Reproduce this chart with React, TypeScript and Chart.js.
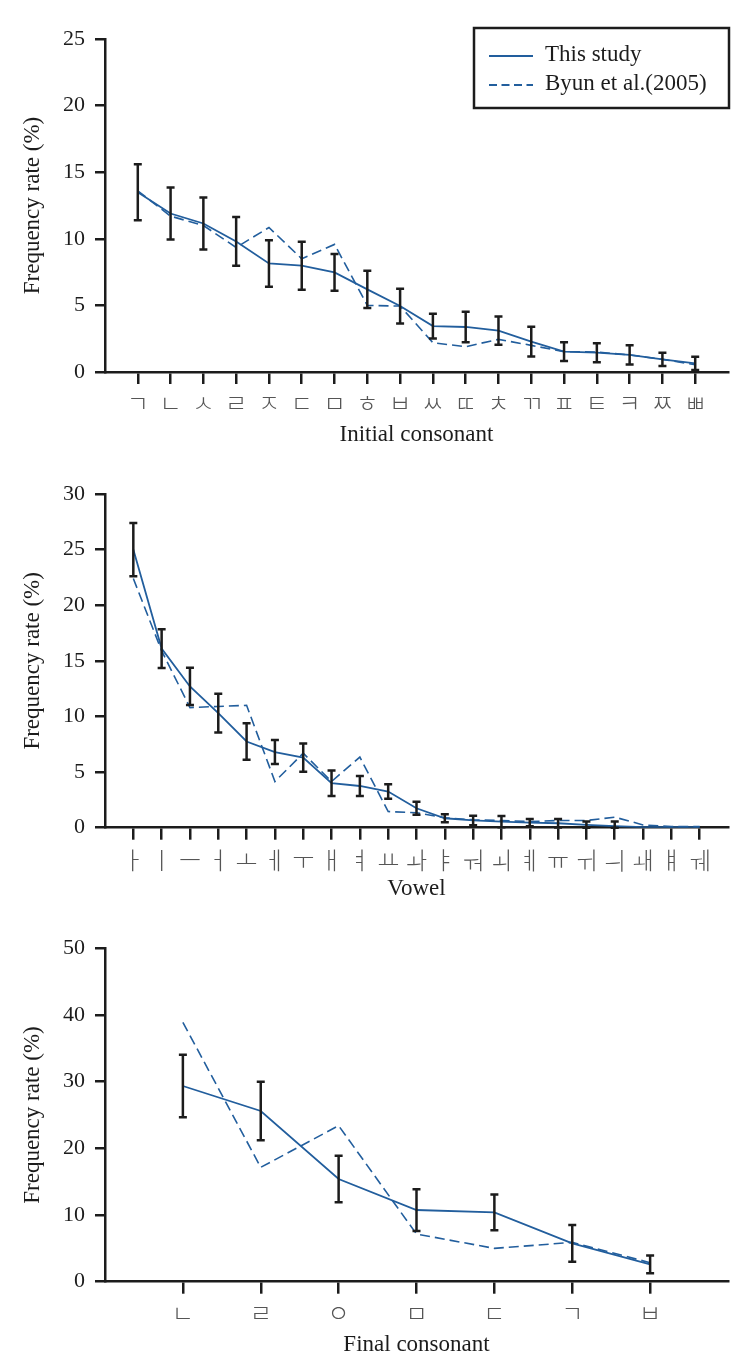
import React, { useEffect, useRef } from "react";
import { Chart, registerables } from "chart.js";

Chart.register(...registerables);

// ---------- Data ----------
const initialLabels = ["ㄱ", "ㄴ", "ㅅ", "ㄹ", "ㅈ", "ㄷ", "ㅁ", "ㅎ", "ㅂ", "ㅆ", "ㄸ", "ㅊ", "ㄲ", "ㅍ", "ㅌ", "ㅋ", "ㅉ", "ㅃ"];
const initialStudy = [13.5, 11.9, 11.15, 9.8, 8.15, 7.98, 7.48, 6.2, 4.95, 3.45, 3.38, 3.1, 2.28, 1.53, 1.45, 1.28, 0.95, 0.65];
const initialByun = [13.6, 11.7, 11.0, 9.35, 10.85, 8.5, 9.58, 5.0, 4.95, 2.2, 1.9, 2.45, 2.0, 1.53, 1.5, 1.28, 0.95, 0.55];
const initialSd = [2.1, 1.95, 1.95, 1.83, 1.75, 1.8, 1.38, 1.4, 1.3, 0.93, 1.15, 1.06, 1.12, 0.7, 0.71, 0.72, 0.5, 0.5];

const vowelLabels = ["ㅏ", "ㅣ", "ㅡ", "ㅓ", "ㅗ", "ㅔ", "ㅜ", "ㅐ", "ㅕ", "ㅛ", "ㅘ", "ㅑ", "ㅝ", "ㅚ", "ㅖ", "ㅠ", "ㅟ", "ㅢ", "ㅙ", "ㅒ", "ㅞ"];
const vowelStudy = [25.0, 16.1, 12.7, 10.3, 7.75, 6.8, 6.3, 4.0, 3.75, 3.25, 1.75, 0.85, 0.65, 0.55, 0.45, 0.4, 0.25, 0.15, 0.05, 0.05, 0.05];
const vowelByun = [22.4, 15.9, 10.8, 10.9, 11.0, 4.15, 6.7, 4.15, 6.35, 1.45, 1.35, 0.9, 0.7, 0.65, 0.55, 0.65, 0.65, 0.95, 0.25, 0.1, 0.1];
const vowelSd = [2.4, 1.75, 1.68, 1.75, 1.65, 1.08, 1.28, 1.15, 0.9, 0.65, 0.58, 0.35, 0.43, 0.5, 0.33, 0.38, 0.3, 0.4, 0, 0, 0];

const finalLabels = ["ㄴ", "ㄹ", "ㅇ", "ㅁ", "ㄷ", "ㄱ", "ㅂ"];
const finalStudy = [29.35, 25.6, 15.4, 10.75, 10.4, 5.75, 2.6];
const finalByun = [38.9, 17.15, 23.4, 7.15, 5.0, 5.9, 2.85];
const finalSd = [4.68, 4.4, 3.5, 3.13, 2.68, 2.75, 1.33];

const seriesNames = ["This study", "Byun et al.(2005)"];
const yTitle = "Frequency rate (%)";

// ---------- Styles ----------
const FONT = "'Liberation Serif', 'Times New Roman', serif";
const KFONT = "'Noto Sans CJK KR', 'Noto Sans', sans-serif";
const BLUE = "#225e9d";
const INK = "#1c1c1c";

type PanelProps = {
  top: number;
  height: number;
  padTop: number;
  axisH: number;
  titlePadBottom: number;
  labelPad: number;
  labels: string[];
  study: number[];
  byun: number[];
  sd: number[];
  yMax: number;
  yStep: number;
  xTitle: string;
  legend?: boolean;
};

function Panel(p: PanelProps) {
  const ref = useRef<HTMLCanvasElement>(null);
  useEffect(() => {
    if (!ref.current) return;
    const errorBars = {
      id: "errorBars",
      afterDatasetsDraw(chart: any) {
        const { ctx, scales } = chart;
        const x = scales.x;
        const y = scales.y;
        ctx.save();
        ctx.strokeStyle = INK;
        ctx.lineWidth = 2.5;
        ctx.lineCap = "butt";
        p.sd.forEach((s, i) => {
          if (!s) return;
          const px = x.getPixelForValue(i);
          const hi = y.getPixelForValue(p.study[i] + s);
          const lo = y.getPixelForValue(Math.max(p.study[i] - s, 0));
          ctx.beginPath();
          ctx.moveTo(px, hi);
          ctx.lineTo(px, lo);
          ctx.moveTo(px - 4, hi);
          ctx.lineTo(px + 4, hi);
          ctx.moveTo(px - 4, lo);
          ctx.lineTo(px + 4, lo);
          ctx.stroke();
        });
        ctx.restore();
      },
    };
    const legendBox = {
      id: "legendBox",
      afterDraw(chart: any) {
        if (!p.legend) return;
        const { ctx } = chart;
        ctx.save();
        ctx.strokeStyle = INK;
        ctx.lineWidth = 2.5;
        ctx.strokeRect(474, 28, 255, 80);
        ctx.strokeStyle = BLUE;
        ctx.lineWidth = 2;
        ctx.beginPath();
        ctx.moveTo(489, 56);
        ctx.lineTo(533, 56);
        ctx.stroke();
        ctx.setLineDash([8, 4.5]);
        ctx.beginPath();
        ctx.moveTo(489, 85);
        ctx.lineTo(533, 85);
        ctx.stroke();
        ctx.setLineDash([]);
        ctx.fillStyle = INK;
        ctx.font = `23px ${FONT}`;
        ctx.textBaseline = "middle";
        ctx.textAlign = "left";
        ctx.fillText(seriesNames[0], 545, 55);
        ctx.fillText(seriesNames[1], 545, 84);
        ctx.restore();
      },
    };
    const chart = new Chart(ref.current, {
      type: "line",
      data: {
        datasets: [
          {
            label: seriesNames[0],
            data: p.study.map((v, i) => ({ x: i, y: v })),
            borderColor: BLUE,
            borderWidth: 1.8,
            pointRadius: 0,
            fill: false,
            tension: 0,
          },
          {
            label: seriesNames[1],
            data: p.byun.map((v, i) => ({ x: i, y: v })),
            borderColor: BLUE,
            borderWidth: 1.6,
            borderDash: [10, 5],
            pointRadius: 0,
            fill: false,
            tension: 0,
          },
        ],
      },
      options: {
        responsive: false,
        animation: false,
        layout: { padding: { top: p.padTop, right: 28, bottom: 0, left: 0 } },
        plugins: { legend: { display: false }, tooltip: { enabled: false } },
        scales: {
          x: {
            type: "linear",
            min: -1,
            max: p.labels.length,
            afterBuildTicks: (s: any) => {
              s.ticks = p.labels.map((_, i) => ({ value: i }));
            },
            afterFit: (s: any) => {
              s.height = p.axisH;
            },
            ticks: {
              autoSkip: false,
              maxRotation: 0,
              minRotation: 0,
              padding: p.labelPad,
              color: "#555",
              font: { family: KFONT, size: 24, weight: "300" },
              callback: (v: any) => p.labels[v] ?? "",
            },
            grid: { drawOnChartArea: false, drawTicks: true, tickLength: 12, lineWidth: 2.5, color: INK },
            border: { display: true, width: 2.5, color: INK },
            title: {
              display: true,
              text: p.xTitle,
              color: INK,
              font: { family: FONT, size: 23 },
              padding: { top: 0, bottom: p.titlePadBottom },
            },
          },
          y: {
            min: 0,
            max: p.yMax,
            afterFit: (s: any) => {
              s.width = 105;
            },
            ticks: { stepSize: p.yStep, padding: 10, color: INK, font: { family: FONT, size: 22 } },
            grid: { drawOnChartArea: false, drawTicks: true, tickLength: 10, lineWidth: 2.5, color: INK },
            border: { display: true, width: 2.5, color: INK },
            title: {
              display: true,
              text: yTitle,
              color: INK,
              font: { family: FONT, size: 23 },
              padding: { top: 19, bottom: 0 },
            },
          },
        },
      },
      plugins: [errorBars, legendBox],
    } as any);
    return () => chart.destroy();
  }, []);
  return (
    <canvas
      ref={ref}
      width={756}
      height={p.height}
      style={{ position: "absolute", left: 0, top: p.top, width: 756, height: p.height }}
    />
  );
}

export default function App() {
  return (
    <div style={{ position: "absolute", left: 0, top: 0, width: 756, height: 1370, background: "#fff" }}>
      <Panel
        top={0}
        height={450}
        padTop={39}
        axisH={78}
        titlePadBottom={1.2}
        labelPad={4.8}
        labels={initialLabels}
        study={initialStudy}
        byun={initialByun}
        sd={initialSd}
        yMax={25}
        yStep={5}
        xTitle="Initial consonant"
        legend
      />
      <Panel
        top={450}
        height={460}
        padTop={44}
        axisH={82.3}
        titlePadBottom={7.2}
        labelPad={6.1}
        labels={vowelLabels}
        study={vowelStudy}
        byun={vowelByun}
        sd={vowelSd}
        yMax={30}
        yStep={5}
        xTitle="Vowel"
      />
      <Panel
        top={910}
        height={460}
        padTop={38.3}
        axisH={88.3}
        titlePadBottom={11.2}
        labelPad={5.1}
        labels={finalLabels}
        study={finalStudy}
        byun={finalByun}
        sd={finalSd}
        yMax={50}
        yStep={10}
        xTitle="Final consonant"
      />
    </div>
  );
}
